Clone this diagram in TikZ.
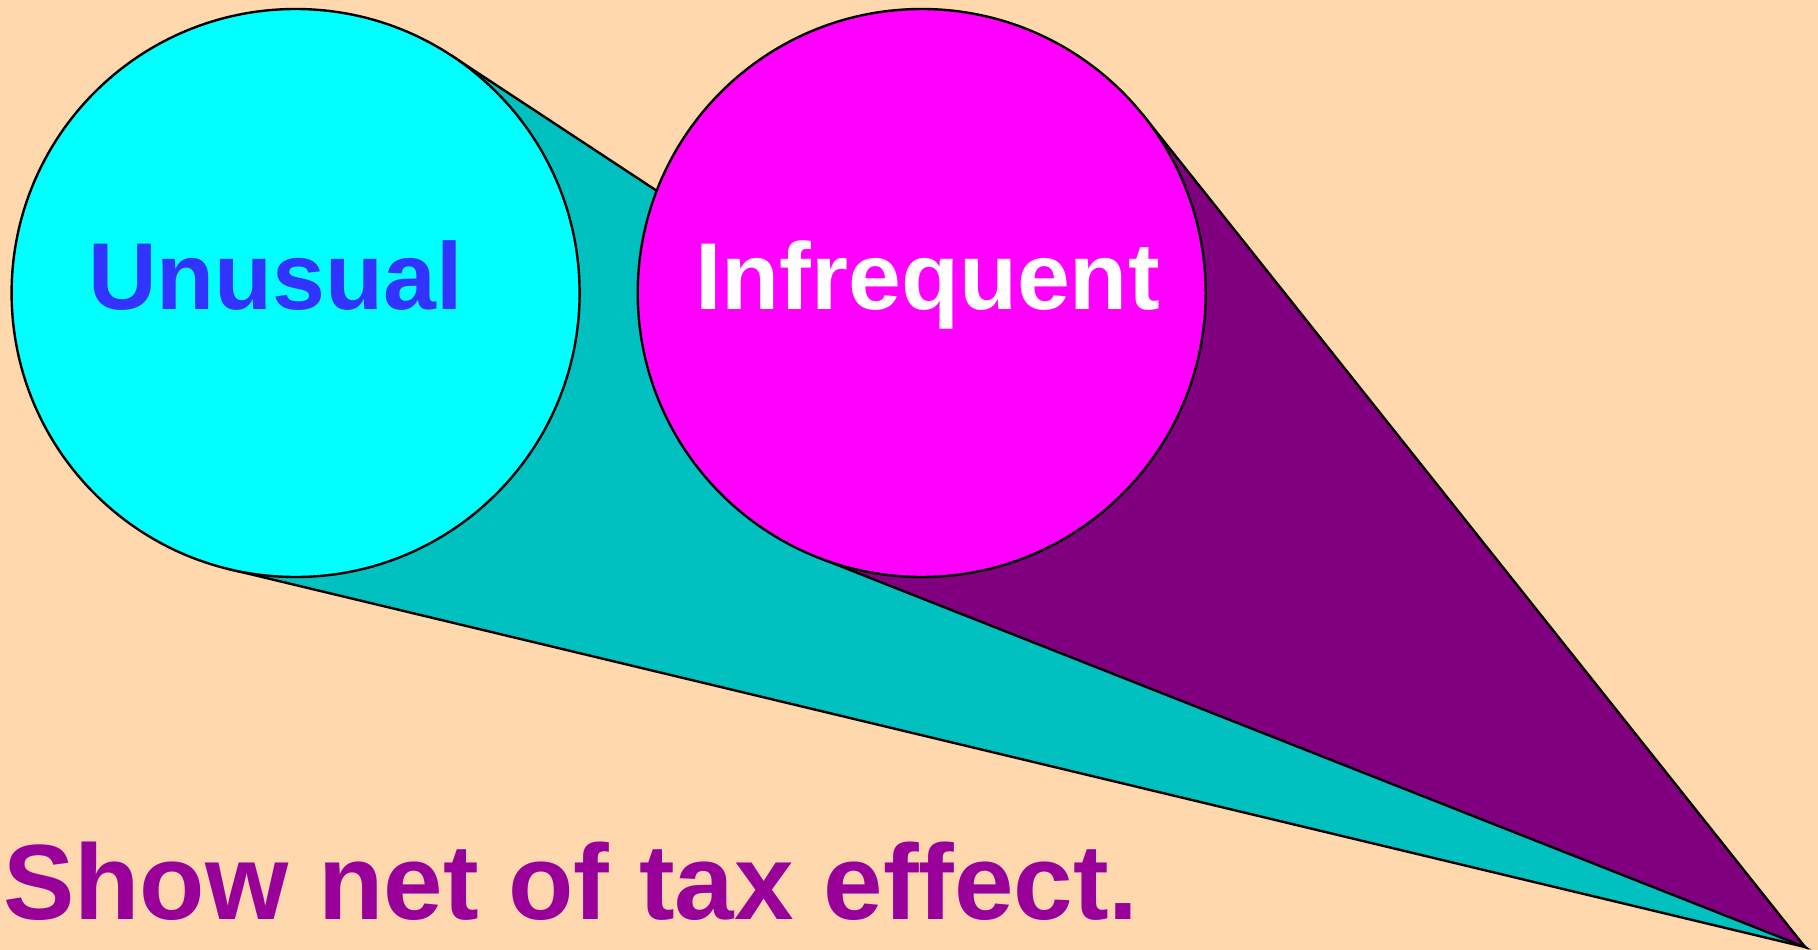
\documentclass[tikz,border=0pt]{standalone}
\usepackage{fontspec}
\setmainfont{Liberation Sans}
\usetikzlibrary{calc}
\definecolor{bgpeach}{HTML}{FFD8AE}
\definecolor{cyanface}{HTML}{00FFFF}
\definecolor{cyancone}{HTML}{00C0C0}
\definecolor{magface}{HTML}{FF00FF}
\definecolor{magcone}{HTML}{800080}
\definecolor{bluetext}{HTML}{3333FF}
\definecolor{purpletext}{HTML}{990099}
\pgfdeclarelayer{bglayer}
\pgfdeclarelayer{conelayer}
\pgfsetlayers{bglayer,conelayer,main}
\begin{document}
\begin{tikzpicture}[x=1pt,y=-1pt,
  disc/.style={circle,draw=black,line width=2.4pt,minimum size=568pt,inner sep=0pt,outer sep=0pt},
  conepoly/.style={draw=black,line width=2.4pt,line join=miter},
  label/.style={anchor=base west,inner sep=0pt,font=\fontsize{95}{100}\selectfont\bfseries},
  caption/.style={anchor=base west,inner sep=0pt,font=\fontsize{107}{110}\selectfont\bfseries,text=purpletext}]
\useasboundingbox (0,0) rectangle (1818,950);
\begin{pgfonlayer}{bglayer}
\fill[bgpeach] (0,0) rectangle (1818,950);
\end{pgfonlayer}
\node[disc,fill=cyanface] (cyanC) at (295.6,293) {};
\node[disc,fill=magface] (magC) at (921.7,293) {};
\coordinate (apex) at (1805,947);
\path (tangent cs:node=cyanC,point={(apex)},solution=1) coordinate (c1);
\path (tangent cs:node=cyanC,point={(apex)},solution=2) coordinate (c2);
\path (tangent cs:node=magC,point={(apex)},solution=1) coordinate (m1);
\path (tangent cs:node=magC,point={(apex)},solution=2) coordinate (m2);
\begin{pgfonlayer}{conelayer}
\draw[conepoly,fill=cyancone] (apex) -- (c1) -- (c2) -- cycle;
\draw[conepoly,fill=magcone] (apex) -- (m1) -- (m2) -- cycle;
\end{pgfonlayer}
\node[label,text=bluetext] (unusual) at (88,309.5) {Unusual};
\node[label,text=white] (infrequent) at (695,309.5) {Infrequent};
\node[caption] (net) at (3,919) {Show net of tax effect.};
\end{tikzpicture}
\end{document}
